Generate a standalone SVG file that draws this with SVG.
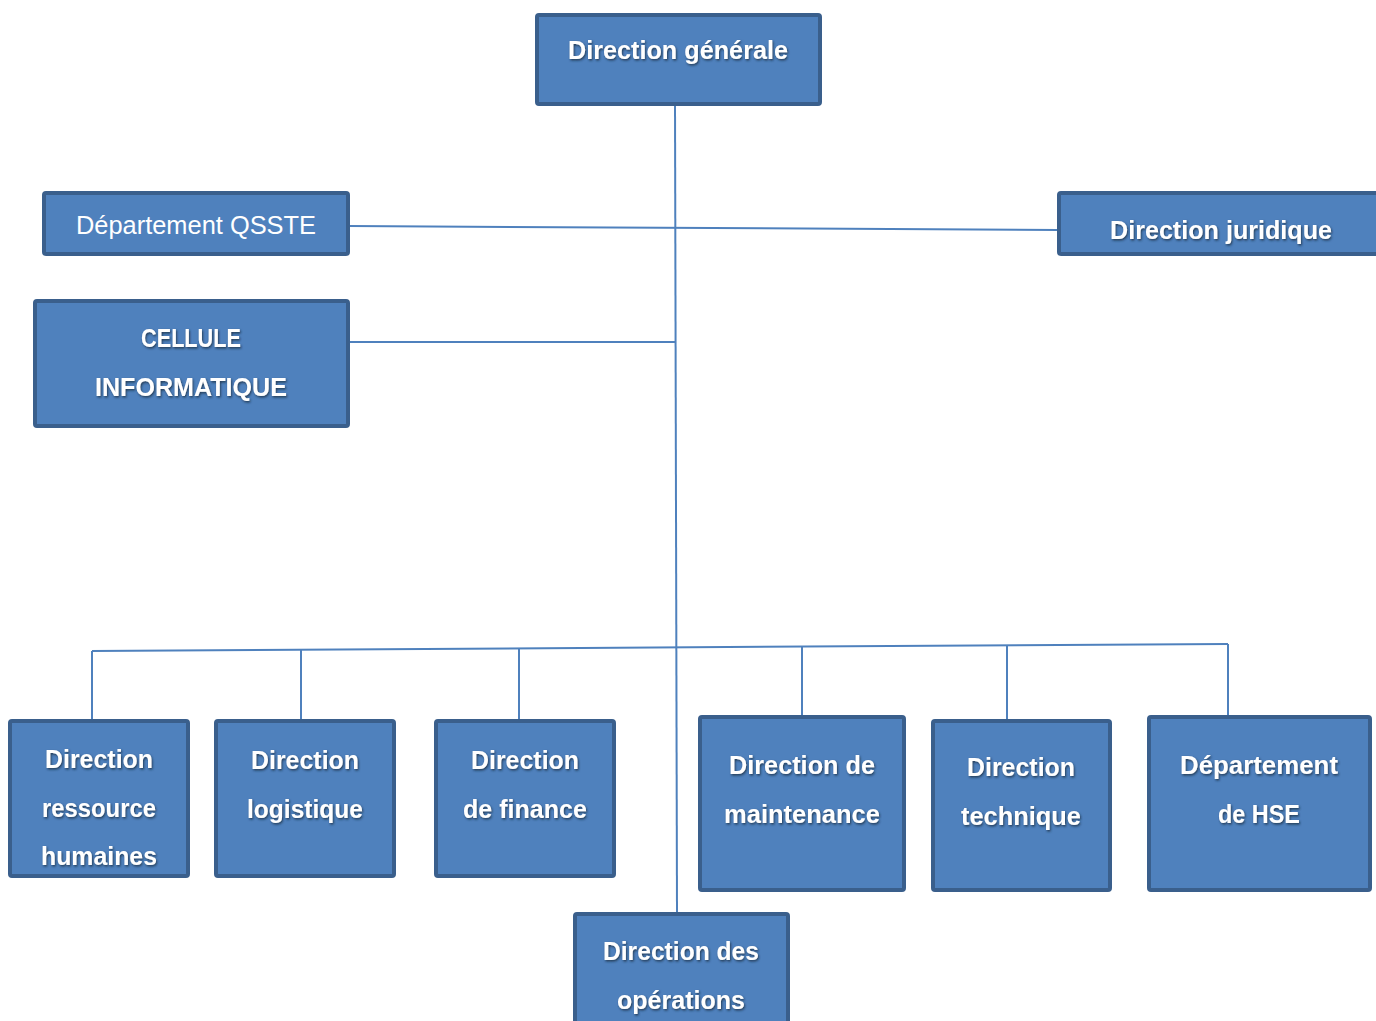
<svg xmlns="http://www.w3.org/2000/svg" width="1376" height="1021" viewBox="0 0 1376 1021">
  <defs>
    <filter id="txtShadow" x="-10%" y="-30%" width="120%" height="160%">
      <feDropShadow dx="1" dy="1.5" stdDeviation="1.2" flood-color="#1a2a40" flood-opacity="0.8"/>
    </filter>
  </defs>
  <style>
    .box { fill: #4F81BD; stroke: #3A5F8C; stroke-width: 4; }
    .lbl { fill: #ffffff; font-family: "Liberation Sans", Arial, sans-serif; font-weight: bold; font-size: 26px; text-anchor: middle; filter: url(#txtShadow); }
    .plain { fill: #ffffff; font-family: "Liberation Sans", Arial, sans-serif; font-size: 25px; text-anchor: middle; }
    .wire { stroke: #4F81BD; stroke-width: 2; fill: none; }
  </style>
  <rect width="1376" height="1021" fill="#ffffff"/>

  <!-- connectors: trunk, side branches and bottom bus -->
  <g id="connectors">
    <line class="wire" x1="675" y1="104" x2="677" y2="913"/>
    <line class="wire" x1="349" y1="226" x2="1058" y2="230"/>
    <line class="wire" x1="349" y1="342" x2="676" y2="342"/>
    <line class="wire" x1="92" y1="651" x2="1228" y2="644"/>
    <line class="wire" x1="92" y1="651" x2="92" y2="720"/>
    <line class="wire" x1="301" y1="650" x2="301" y2="720"/>
    <line class="wire" x1="519" y1="649" x2="519" y2="720"/>
    <line class="wire" x1="802" y1="647" x2="802" y2="716"/>
    <line class="wire" x1="1007" y1="646" x2="1007" y2="720"/>
    <line class="wire" x1="1228" y1="644" x2="1228" y2="716"/>
  </g>

  <g id="direction-generale">
    <rect class="box" x="537" y="15" width="283" height="89" rx="2"/>
    <text class="lbl" x="678" y="59" textLength="220" lengthAdjust="spacingAndGlyphs">Direction générale</text>
  </g>

  <g id="departement-qsste">
    <rect class="box" x="44" y="193" width="304" height="61" rx="2"/>
    <text class="plain" x="196" y="234" textLength="240" lengthAdjust="spacingAndGlyphs">Département QSSTE</text>
  </g>

  <g id="direction-juridique">
    <rect class="box" x="1059" y="193" width="330" height="61" rx="2"/>
    <text class="lbl" x="1221" y="239" textLength="222" lengthAdjust="spacingAndGlyphs">Direction juridique</text>
  </g>

  <g id="cellule-informatique">
    <rect class="box" x="35" y="301" width="313" height="125" rx="2"/>
    <text class="lbl" x="191" y="347" textLength="100" lengthAdjust="spacingAndGlyphs">CELLULE</text>
    <text class="lbl" x="191" y="396" textLength="192" lengthAdjust="spacingAndGlyphs">INFORMATIQUE</text>
  </g>

  <g id="direction-rh">
    <rect class="box" x="10" y="721" width="178" height="155" rx="2"/>
    <text class="lbl" x="99" y="768" textLength="108" lengthAdjust="spacingAndGlyphs">Direction</text>
    <text class="lbl" x="99" y="817" textLength="114" lengthAdjust="spacingAndGlyphs">ressource</text>
    <text class="lbl" x="99" y="865" textLength="116" lengthAdjust="spacingAndGlyphs">humaines</text>
  </g>

  <g id="direction-logistique">
    <rect class="box" x="216" y="721" width="178" height="155" rx="2"/>
    <text class="lbl" x="305" y="769" textLength="108" lengthAdjust="spacingAndGlyphs">Direction</text>
    <text class="lbl" x="305" y="818" textLength="116" lengthAdjust="spacingAndGlyphs">logistique</text>
  </g>

  <g id="direction-finance">
    <rect class="box" x="436" y="721" width="178" height="155" rx="2"/>
    <text class="lbl" x="525" y="769" textLength="108" lengthAdjust="spacingAndGlyphs">Direction</text>
    <text class="lbl" x="525" y="818" textLength="124" lengthAdjust="spacingAndGlyphs">de finance</text>
  </g>

  <g id="direction-maintenance">
    <rect class="box" x="700" y="717" width="204" height="173" rx="2"/>
    <text class="lbl" x="802" y="774" textLength="146" lengthAdjust="spacingAndGlyphs">Direction de</text>
    <text class="lbl" x="802" y="823" textLength="156" lengthAdjust="spacingAndGlyphs">maintenance</text>
  </g>

  <g id="direction-technique">
    <rect class="box" x="933" y="721" width="177" height="169" rx="2"/>
    <text class="lbl" x="1021" y="776" textLength="108" lengthAdjust="spacingAndGlyphs">Direction</text>
    <text class="lbl" x="1021" y="825" textLength="120" lengthAdjust="spacingAndGlyphs">technique</text>
  </g>

  <g id="departement-hse">
    <rect class="box" x="1149" y="717" width="221" height="173" rx="2"/>
    <text class="lbl" x="1259" y="774" textLength="158" lengthAdjust="spacingAndGlyphs">Département</text>
    <text class="lbl" x="1259" y="823" textLength="82" lengthAdjust="spacingAndGlyphs">de HSE</text>
  </g>

  <g id="direction-operations">
    <rect class="box" x="575" y="914" width="213" height="120" rx="2"/>
    <text class="lbl" x="681" y="960" textLength="156" lengthAdjust="spacingAndGlyphs">Direction des</text>
    <text class="lbl" x="681" y="1009" textLength="128" lengthAdjust="spacingAndGlyphs">opérations</text>
  </g>
</svg>
